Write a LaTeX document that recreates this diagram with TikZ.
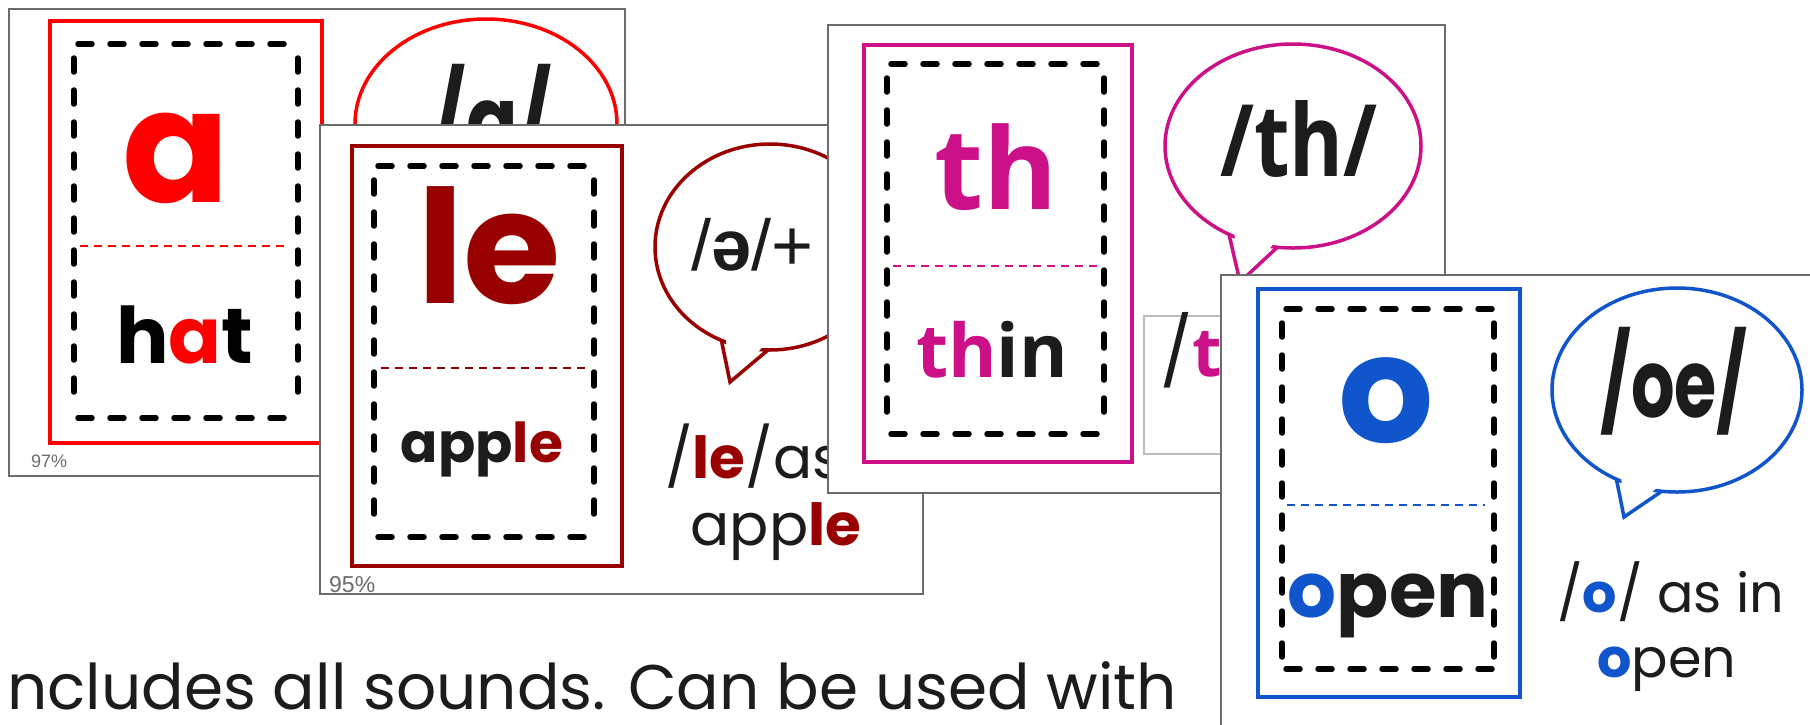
\documentclass[tikz,border=0pt]{standalone}
\usepackage{fontspec}
\usepackage{graphicx}
\setmainfont{Poppins}
\newfontfamily\opens{Open Sans}
\newfontfamily\libs{Liberation Sans}
\usetikzlibrary{calc}
\definecolor{cred}{HTML}{FF0000}
\definecolor{cdark}{HTML}{990000}
\definecolor{cmag}{HTML}{CC1188}
\definecolor{cblue}{HTML}{1155CC}
\definecolor{cgray}{HTML}{6B6B6B}
\definecolor{ink}{HTML}{1C1C1C}
\newcommand\fs[1]{\fontsize{#1}{#1}\selectfont}
\tikzset{
  card/.style={draw=cgray, line width=2, fill=white},
  cutline/.style={draw=black, line width=5.5, dash pattern=on 14pt off 18pt, line cap=round},
  divider/.style={line width=2, dash pattern=on 8pt off 6pt},
  txt/.style={inner sep=0, anchor=base, text=ink},
  bubbleline/.style={line width=3.5, line join=miter},
}
% dashed cut-out box: x1 y1 x2 y2
\newcommand\cutbox[4]{%
  \draw[cutline] (#1+4,#2) -- (#3,#2);
  \draw[cutline] (#1+4,#4) -- (#3,#4);
  \draw[cutline] (#1,#2+14) -- (#1,#4-12);
  \draw[cutline] (#3,#2+14) -- (#3,#4-12);
}
% speech bubble: cx cy rx ry angle1 angle2 tipx tipy colour
\newcommand\spbubble[9]{%
  \fill[white] (#1,#2) ellipse [x radius=#3, y radius=#4];
  \draw[#9, bubbleline] (#1,#2) ellipse [x radius=#3, y radius=#4];
  \fill[white] ($(#1,#2)+(#5:#3-9 and #4-9)$) -- (#7,#8) -- ($(#1,#2)+(#6:#3-9 and #4-9)$) -- cycle;
  \draw[#9, bubbleline] ($(#1,#2)+(#5:#3 and #4)$) -- (#7,#8) -- ($(#1,#2)+(#6:#3 and #4)$);
}
\begin{document}
\begin{tikzpicture}[x=1pt,y=-1pt]
\useasboundingbox (0,0) rectangle (1810,724);
\clip (0,0) rectangle (1810,724);
\fill[white] (0,0) rectangle (1810,724);

% bottom caption
\node[txt, anchor=base west, font=\fs{63}] (caption) at (7,709) {ncludes all sounds. Can be used with};

% ---------- card 1 : a ----------
\filldraw[card] (9,9) rectangle (625,476);
\begin{scope}
\clip (9,9) rectangle (625,476);
\draw[cred, line width=4.5] (50,21) rectangle (322,443);
\cutbox{74}{44}{298}{418}
\draw[cred, divider] (80,246) -- (286,246);
\node[txt, text=cred, font=\bfseries\fs{158}] (a1) at (176,202) {a};
\node[txt, text=black, font=\bfseries\fs{78}] (hat) at (185,363) {h\textcolor{cred}{a}t};
\node[txt, anchor=base west, text=cgray, font=\libs\fs{18}] (p97) at (31,467) {97\%};
\spbubble{486}{124}{131}{105}{115}{95}{470}{250}{cred}
\node[txt, font=\bfseries\fs{95}] (sa) at (492,154) {\scalebox{0.8}[1]{/a/}};
\end{scope}

% ---------- card 2 : le ----------
\filldraw[card] (320,125) rectangle (923,594);
\begin{scope}
\clip (320,125) rectangle (923,594);
\draw[cdark, line width=3.5] (352,146) rectangle (622,566);
\cutbox{374}{166}{594}{537}
\draw[cdark, divider] (381,368) -- (586,368);
\node[txt, text=cdark, font=\bfseries\fs{158}] (le) at (489,303) {le};
\node[txt, text=ink, font=\bfseries\fs{55}] (apple) at (482,462) {app\textcolor{cdark}{le}};
\spbubble{770}{247}{115}{103}{115}{91}{730}{382}{cdark}
\node[txt, anchor=base west, font=\libs\fs{72}] (schwa) at (691,270) {/\textbf{ə}/+};
\node[txt, anchor=base west, font=\fs{58}] (leas) at (665,478) {/\textcolor{cdark}{\bfseries le}/as};
\node[txt, font=\fs{58}] (apple2) at (776,545) {app\textcolor{cdark}{\bfseries le}};
\node[txt, anchor=base west, text=cgray, font=\libs\fs{23}] (p95) at (329,592) {95\%};
\end{scope}

% ---------- card 3 : th ----------
\filldraw[card] (828,25) rectangle (1445,493);
\begin{scope}
\clip (828,25) rectangle (1445,493);
\draw[cmag, line width=3.5] (864,45) rectangle (1132,462);
\cutbox{887}{64}{1104}{434}
\draw[cmag, divider] (893,266) -- (1098,266);
\node[txt, text=cmag, font=\opens\bfseries\fs{113}] (th) at (996,209) {th};
\node[txt, text=ink, font=\opens\bfseries\fs{74}] (thin) at (992,377) {\textcolor{cmag}{th}in};
\spbubble{1293}{146}{128}{102}{120}{97}{1240}{282}{cmag}
\node[txt, font=\opens\bfseries\fs{100}] (sth) at (1299,176) {\scalebox{0.82}[1]{/th/}};
\draw[draw=cgray!45, line width=2] (1144,316) rectangle (1320,454);
\node[txt, anchor=base west, font=\fs{68}] (sth2) at (1160,376) {/\textcolor{cmag}{\opens\bfseries th}};
\end{scope}

% ---------- card 4 : o ----------
\filldraw[card] (1221,275) rectangle (1840,760);
\draw[cblue, line width=3.5] (1258,289) rectangle (1520,697);
\cutbox{1282}{309}{1494}{669}
\draw[cblue, divider] (1287,505) -- (1485,505);
\node[txt, text=cblue, font=\bfseries\fs{150}] (o) at (1386,442) {o};
\node[txt, text=ink, font=\bfseries\fs{77}] (open) at (1388,617) {\textcolor{cblue}{o}pen};
\spbubble{1677}{390}{125}{102}{119}{97}{1624}{517}{cblue}
\node[txt, font=\bfseries\fs{95}] (soe) at (1674,417) {\scalebox{0.72}[1]{/oe/}};
\node[txt, anchor=base west, font=\fs{54}] (oas) at (1557,612) {/\textcolor{cblue}{\bfseries o}/ as in};
\node[txt, font=\fs{54}] (open2) at (1667,677) {\textcolor{cblue}{\bfseries o}pen};
\end{tikzpicture}
\end{document}
